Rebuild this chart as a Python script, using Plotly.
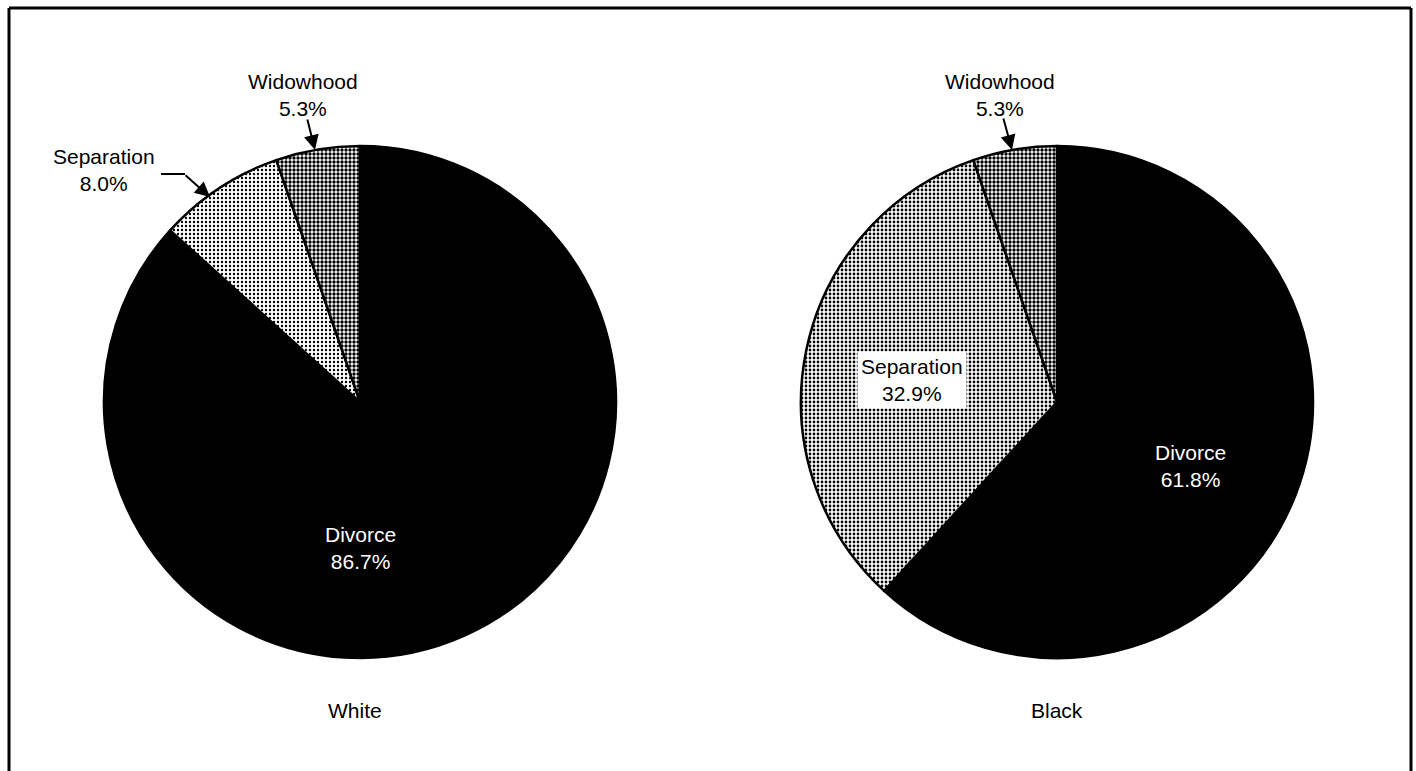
import plotly.graph_objects as go

W, H = 1416, 771

categories = ["Divorce", "Separation", "Widowhood"]
white_values = [86.7, 8.0, 5.3]
black_values = [61.8, 32.9, 5.3]
panel_titles = ["White", "Black"]


def px(x):
    return x / W


def py(y):
    return 1 - y / H


def dom(cx, cy, r):
    return dict(x=[px(cx - r), px(cx + r)], y=[py(cy + r), py(cy - r)])


FONT = dict(family="Liberation Sans, Arial, sans-serif", size=21, color="black")

fig = go.Figure()

pies = [
    (white_values, 360, 402, 256, [0.28, 0.55]),
    (black_values, 1057, 402, 256, [0.38, 0.55]),
]
for vals, cx, cy, r, sol in pies:
    fig.add_trace(go.Pie(
        labels=categories,
        values=vals,
        sort=False,
        direction="clockwise",
        rotation=0,
        textinfo="none",
        hoverinfo="label+percent",
        showlegend=False,
        domain=dom(cx, cy, r),
        marker=dict(
            colors=["black", "white", "white"],
            line=dict(color="black", width=2.5),
            pattern=dict(
                shape=["", ".", "."],
                fgcolor="black",
                bgcolor=["black", "white", "white"],
                size=[4, 4, 4],
                solidity=[0.0, sol[0], sol[1]],
            ),
        ),
    ))

ann = []


def label(x, y, text, color="black", **kw):
    d = dict(x=px(x), y=py(y), xref="paper", yref="paper", text=text,
             showarrow=False, font=dict(FONT, color=color), align="center",
             xanchor="center", yanchor="middle")
    d.update(kw)
    ann.append(d)


def arrow(x0, y0, x1, y1):
    ann.append(dict(x=px(x1), y=py(y1), xref="paper", yref="paper", text="",
                    showarrow=True, ax=x0 - x1, ay=y0 - y1, arrowhead=2,
                    arrowsize=1.5, arrowwidth=2, arrowcolor="black"))


# Left pie labels
label(303, 95, f"{categories[2]}<br>{white_values[2]:.1f}%")
arrow(307, 118, 315, 150)
label(104, 170, f"{categories[1]}<br>{white_values[1]:.1f}%")
arrow(184, 174, 210, 197)
label(360, 548, f"{categories[0]}<br>{white_values[0]:.1f}%", color="white")
label(355, 710, panel_titles[0])

# Right pie labels
label(1000, 95, f"{categories[2]}<br>{black_values[2]:.1f}%")
arrow(1003, 117, 1012, 150)
label(912, 380, f"{categories[1]}<br>{black_values[1]:.1f}%",
      bgcolor="white", borderpad=3)
label(1190, 466, f"{categories[0]}<br>{black_values[0]:.1f}%", color="white")
label(1057, 710, panel_titles[1])

fig.update_layout(annotations=ann)

shapes = [
    # bent part of the Separation arrow
    dict(type="line", xref="paper", yref="paper", x0=px(161), y0=py(174),
         x1=px(185), y1=py(174), line=dict(color="black", width=2)),
    # frame
    dict(type="line", xref="paper", yref="paper", x0=px(9), y0=py(8),
         x1=px(1411), y1=py(8), line=dict(color="black", width=3)),
    dict(type="line", xref="paper", yref="paper", x0=px(9), y0=py(8),
         x1=px(9), y1=py(800), line=dict(color="black", width=3)),
    dict(type="line", xref="paper", yref="paper", x0=px(1411), y0=py(8),
         x1=px(1411), y1=py(800), line=dict(color="black", width=3)),
]

fig.update_layout(
    width=W, height=H,
    margin=dict(l=0, r=0, t=0, b=0),
    paper_bgcolor="white",
    plot_bgcolor="white",
    shapes=shapes,
    font=FONT,
)

fig.write_html("out.html")
